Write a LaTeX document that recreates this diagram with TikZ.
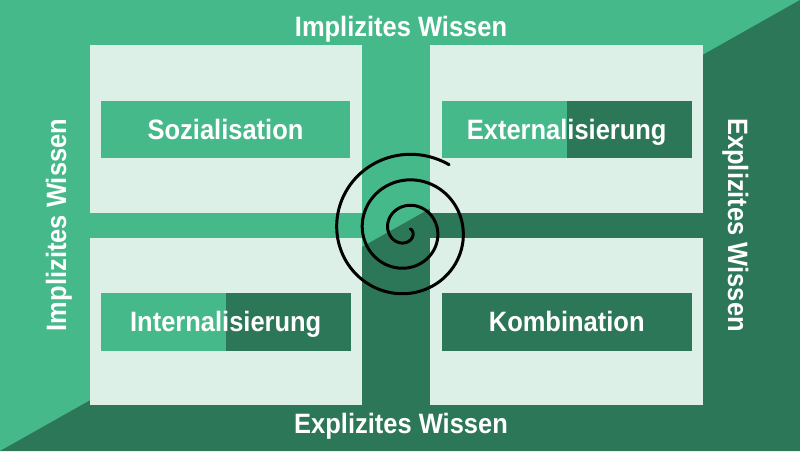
\documentclass[tikz,border=0pt]{standalone}
\usepackage{fontspec}
\setmainfont{Liberation Sans}[FakeStretch=0.91]
\definecolor{lgreen}{HTML}{46B98A}
\definecolor{dgreen}{HTML}{2D7759}
\definecolor{panel}{HTML}{DCF0E7}
\begin{document}
\begin{tikzpicture}[x=1pt,y=-1pt,
  panelbox/.style={fill=panel},
  lbl/.style={text=white,font=\fontsize{28}{32}\selectfont\bfseries,anchor=base,inner sep=0pt},
  sidelbl/.style={lbl}]
\useasboundingbox (0,0) rectangle (800,451);
% background split along the diagonal
\fill[lgreen] (0,0) rectangle (800,451);
\fill[dgreen] (0,451) -- (800,0) -- (800,451) -- cycle;
% panels
\fill[panelbox] (89.5,45) rectangle (362,212.5);
\fill[panelbox] (430,45) rectangle (703,212.5);
\fill[panelbox] (89.5,238.3) rectangle (362,405);
\fill[panelbox] (430,238.3) rectangle (703,405);
% label boxes
\fill[lgreen] (100.7,100.7) rectangle (350.3,157.5);
\fill[lgreen] (441.7,100.7) rectangle (566.7,157.5);
\fill[dgreen] (566.7,100.7) rectangle (691.7,157.5);
\fill[lgreen] (100.7,293.3) rectangle (225.7,350.5);
\fill[dgreen] (225.7,293.3) rectangle (350.7,350.5);
\fill[dgreen] (441.7,293.3) rectangle (691.7,350.5);
% box labels
\node[lbl] (soz) at (225.5,139) {Sozialisation};
\node[lbl] (ext) at (566.7,139) {Externalisierung};
\node[lbl] (int) at (225.7,331.7) {Internalisierung};
\node[lbl] (kom) at (566.7,331.7) {Kombination};
% side labels
\node[lbl] (top) at (401,36.7) {Implizites Wissen};
\node[lbl] (bot) at (401,433) {Explizites Wissen};
\node[sidelbl,rotate=90] (left) at (66,225) {Implizites Wissen};
\node[sidelbl,rotate=-90] (right) at (728,225) {Explizites Wissen};
% spiral
\draw[line width=3pt,line cap=round] plot[domain=-20:1023,samples=500,smooth]
  ({406.4+(5.6+0.07111*\x)*cos(\x)},{230.4+(5.6+0.07111*\x)*sin(\x)});
\end{tikzpicture}
\end{document}
